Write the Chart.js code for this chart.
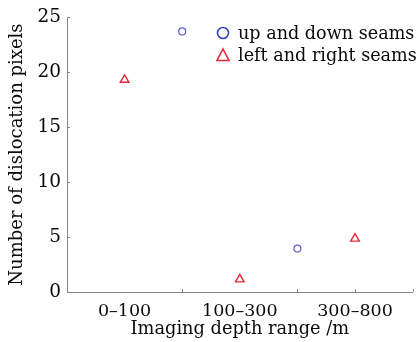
<!DOCTYPE html>
<html>
<head>
<meta charset="utf-8">
<script src="https://cdn.jsdelivr.net/npm/chart.js@4.4.1/dist/chart.umd.min.js"></script>
<style>
  html, body { margin: 0; padding: 0; background: #fff; }
  #wrap { position: relative; width: 419px; height: 342px; }
  #legend { position: absolute; left: 214px; top: 22px; font-family: "DejaVu Serif", serif; font-size: 17.6px; color: #0a0a0a; line-height: 22px; }
  #legend div { display: flex; align-items: center; white-space: nowrap; }
  #legend svg { width: 18px; height: 16px; margin-right: 6px; }
</style>
</head>
<body>
<div id="wrap">
  <canvas id="c" width="419" height="342"></canvas>
  <div id="legend"></div>
</div>
<script>
// Categories and their positions on the x axis
const categories = ['0\u2013100', '100\u2013300', '300\u2013800'];
const categoryPos = [1, 2, 3];
const xMin = 0.5, xMax = 3.5;
const xTickMarks = [1.5, 2.5, 3, 3.5];

// Series
const upDownLabel = 'up and down seams';
const upDownX = [1.5, 2.5];
const upDownY = [23.7, 3.95];

const leftRightLabel = 'left and right seams';
const leftRightX = [1, 2, 3];
const leftRightY = [19.3, 1.15, 4.85];

const yTicks = [0, 5, 10, 15, 20, 25];

const blue = '#5c5cd0';
const red = '#e3283a';
const serif = '"DejaVu Serif", serif';

const inwardTicks = {
  id: 'inwardTicks',
  afterDatasetsDraw(chart) {
    const ctx = chart.ctx;
    const xs = chart.scales.x, ys = chart.scales.y;
    ctx.save();
    ctx.strokeStyle = '#888';
    ctx.lineWidth = 1;
    ctx.beginPath();
    yTicks.forEach(v => {
      const py = Math.round(ys.getPixelForValue(v)) + 0.5;
      ctx.moveTo(xs.left, py);
      ctx.lineTo(xs.left + 3, py);
    });
    xTickMarks.forEach(v => {
      const px = Math.round(xs.getPixelForValue(v)) + 0.5;
      ctx.moveTo(px, ys.bottom);
      ctx.lineTo(px, ys.bottom - 3);
    });
    ctx.stroke();
    ctx.restore();
  }
};

const chart = new Chart(document.getElementById('c'), {
  type: 'scatter',
  data: {
    datasets: [
      {
        label: upDownLabel,
        data: upDownX.map((x, i) => ({ x, y: upDownY[i] })),
        pointStyle: 'circle',
        pointRadius: 3.5,
        borderColor: blue,
        backgroundColor: 'rgba(0,0,0,0)',
        borderWidth: 1.2
      },
      {
        label: leftRightLabel,
        data: leftRightX.map((x, i) => ({ x, y: leftRightY[i] })),
        pointStyle: 'triangle',
        pointRadius: 5,
        borderColor: red,
        backgroundColor: 'rgba(0,0,0,0)',
        borderWidth: 1.4
      }
    ]
  },
  options: {
    responsive: false,
    animation: false,
    events: [],
    layout: { padding: { top: 16, right: 5, left: 0, bottom: 0 } },
    plugins: { legend: { display: false }, tooltip: { enabled: false } },
    scales: {
      x: {
        type: 'linear',
        min: xMin, max: xMax,
        afterBuildTicks(scale) { scale.ticks = categoryPos.map(v => ({ value: v })); },
        afterFit(scale) { scale.height = 50; },
        grid: { display: false, drawTicks: false },
        border: { display: true, color: '#888', width: 1 },
        ticks: {
          callback: (v) => { const i = categoryPos.indexOf(v); return i >= 0 ? categories[i] : ''; },
          font: { family: serif, size: 17.5 }, color: '#0a0a0a', padding: 9, maxRotation: 0
        },
        title: { display: true, text: 'Imaging depth range /m', font: { family: serif, size: 17.8 }, color: '#0a0a0a', padding: { top: 0, bottom: 2 } }
      },
      y: {
        min: 0, max: 25,
        afterBuildTicks(scale) { scale.ticks = yTicks.map(v => ({ value: v })); },
        afterFit(scale) { scale.width = 67; },
        grid: { display: false, drawTicks: false },
        border: { display: true, color: '#888', width: 1 },
        ticks: { font: { family: serif, size: 18.5 }, color: '#0a0a0a', padding: 6 },
        title: { display: true, text: 'Number of dislocation pixels', font: { family: serif, size: 18 }, color: '#0a0a0a', padding: { top: 7, bottom: 0 } }
      }
    }
  },
  plugins: [inwardTicks]
});

// HTML legend from the datasets
const legend = document.getElementById('legend');
chart.data.datasets.forEach(ds => {
  const row = document.createElement('div');
  const marker = ds.pointStyle === 'circle'
    ? `<svg viewBox="0 0 18 16"><circle cx="9" cy="8" r="5.5" fill="none" stroke="#3a44c0" stroke-width="1.6"/></svg>`
    : `<svg viewBox="0 0 18 16"><polygon points="9,2 15,13.5 3,13.5" fill="none" stroke="${ds.borderColor}" stroke-width="1.6"/></svg>`;
  row.innerHTML = marker + '<span>' + ds.label + '</span>';
  legend.appendChild(row);
});
</script>
</body>
</html>
